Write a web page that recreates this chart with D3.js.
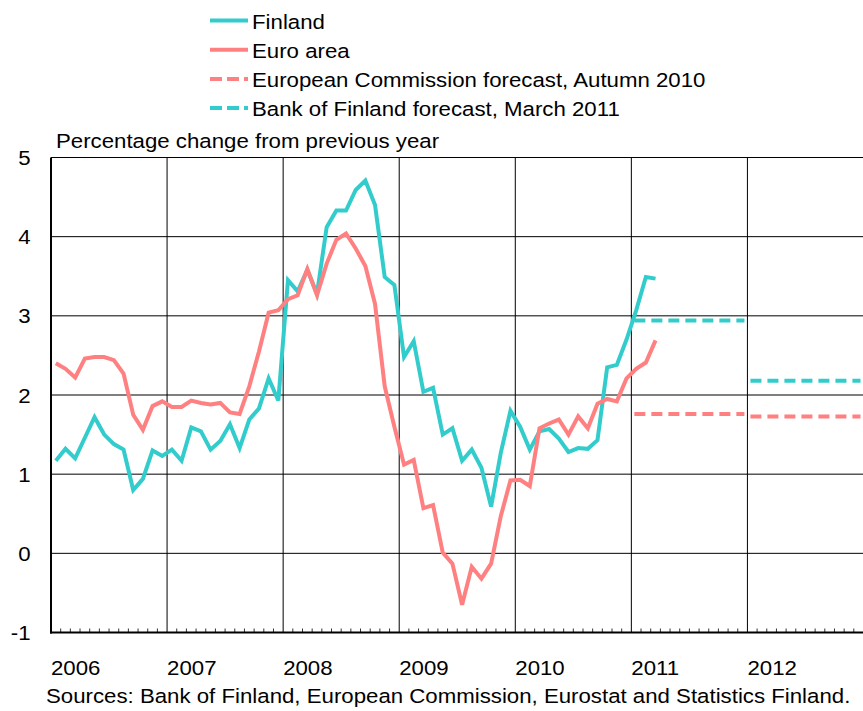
<!DOCTYPE html>
<html>
<head>
<meta charset="utf-8">
<script src="https://cdn.jsdelivr.net/npm/d3@7"></script>
<style>
  html, body { margin: 0; padding: 0; background: #fff; }
  svg { display: block; font-family: "Liberation Sans", Arial, sans-serif; }
</style>
</head>
<body>
<svg id="chart" width="863" height="711"></svg>
<script>
// Monthly HICP inflation, Jan 2006 – Mar 2011 (percentage change from previous year)
const startYear = 2006;
const finland = [
  1.17, 1.32, 1.20, 1.46, 1.72, 1.50, 1.38, 1.31, 0.80, 0.94, 1.30, 1.23,
  1.31, 1.17, 1.59, 1.54, 1.31, 1.42, 1.63, 1.33, 1.69, 1.83, 2.21, 1.93,
  3.45, 3.31, 3.58, 3.28, 4.12, 4.33, 4.33, 4.59, 4.71, 4.40, 3.49, 3.39,
  2.48, 2.68, 2.04, 2.09, 1.50, 1.58, 1.17, 1.31, 1.08, 0.59, 1.27, 1.80,
  1.60, 1.31, 1.54, 1.57, 1.45, 1.28, 1.33, 1.32, 1.43, 2.35, 2.38, 2.70,
  3.07, 3.49, 3.47
];
const euroArea = [
  2.40, 2.33, 2.22, 2.46, 2.48, 2.48, 2.44, 2.27, 1.75, 1.56, 1.86, 1.92,
  1.85, 1.85, 1.93, 1.90, 1.88, 1.90, 1.78, 1.76, 2.11, 2.55, 3.04, 3.07,
  3.21, 3.26, 3.59, 3.26, 3.66, 3.96, 4.04, 3.85, 3.63, 3.15, 2.11, 1.60,
  1.12, 1.18, 0.57, 0.61, 0.01, -0.13, -0.65, -0.17, -0.32, -0.13, 0.47, 0.92,
  0.93, 0.85, 1.58, 1.64, 1.69, 1.50, 1.73, 1.58, 1.89, 1.95, 1.92, 2.21,
  2.33, 2.41, 2.69
];
// Annual forecasts
const forecastYears = [2011, 2012];
const ecForecast = [1.76, 1.73];
const bofForecast = [2.94, 2.18];

const yearLabels = ["2006", "2007", "2008", "2009", "2010", "2011", "2012"];
const yTicks = [-1, 0, 1, 2, 3, 4, 5];

const seriesNames = [
  "Finland",
  "Euro area",
  "European Commission forecast, Autumn 2010",
  "Bank of Finland forecast, March 2011"
];

const CYAN = "#33cccc";
const RED = "#ff8080";
const FONT_SIZE = 20.5;
const STRETCH = 1.085;   // slightly wide lettering

const svg = d3.select("#chart");

const x = d3.scaleLinear().domain([0, 84]).range([51, 863.5]);   // months since Jan 2006
const y = d3.scaleLinear().domain([-1, 5]).range([632.5, 157.5]);

const left = x(0), right = 863;

// text helper: places a horizontally stretched label at (px, py)
function label(sel, px, py) {
  return sel.attr("transform", (d, i) => {
    const tx = typeof px === "function" ? px(d, i) : px;
    const ty = typeof py === "function" ? py(d, i) : py;
    return `translate(${tx},${ty}) scale(${STRETCH},1)`;
  }).attr("font-size", FONT_SIZE).attr("fill", "#000");
}

// horizontal gridlines
svg.append("g").selectAll("line").data(yTicks).join("line")
  .attr("x1", left).attr("x2", right)
  .attr("y1", d => y(d)).attr("y2", d => y(d))
  .attr("stroke", "#000").attr("stroke-width", 1);

// vertical year gridlines
svg.append("g").selectAll("line").data(d3.range(1, 7)).join("line")
  .attr("x1", d => x(d * 12)).attr("x2", d => x(d * 12))
  .attr("y1", y(5)).attr("y2", y(-1))
  .attr("stroke", "#000").attr("stroke-width", 1);

// monthly ticks on the bottom axis
svg.append("g").selectAll("line").data(d3.range(1, 84).filter(m => m % 12 !== 0)).join("line")
  .attr("x1", d => x(d)).attr("x2", d => x(d))
  .attr("y1", y(-1)).attr("y2", y(-1) - 4)
  .attr("stroke", "#333").attr("stroke-width", 1);

// axes
svg.append("line").attr("x1", left).attr("x2", left).attr("y1", y(5)).attr("y2", y(-1) + 1)
  .attr("stroke", "#000").attr("stroke-width", 2);
svg.append("line").attr("x1", left - 1).attr("x2", right).attr("y1", y(-1)).attr("y2", y(-1))
  .attr("stroke", "#000").attr("stroke-width", 2);

// y tick labels
label(svg.append("g").selectAll("text").data(yTicks).join("text"), 30.5, d => y(d) + 7.5)
  .attr("text-anchor", "end")
  .text(d => d);

// year labels
label(svg.append("g").selectAll("text").data(yearLabels).join("text"), (d, i) => x(i * 12), 675)
  .text(d => d);

// series lines
const line = d3.line().x((d, i) => x(i + 0.5)).y(d => y(d));
svg.append("path").datum(finland).attr("d", line)
  .attr("fill", "none").attr("stroke", CYAN).attr("stroke-width", 4);
svg.append("path").datum(euroArea).attr("d", line)
  .attr("fill", "none").attr("stroke", RED).attr("stroke-width", 4);

// forecast levels (one dashed segment per year)
function forecast(values, color) {
  svg.append("g").selectAll("line").data(values).join("line")
    .attr("x1", (d, i) => x((forecastYears[i] - startYear) * 12) + 3)
    .attr("x2", (d, i) => x((forecastYears[i] - startYear + 1) * 12) - 3)
    .attr("y1", d => y(d)).attr("y2", d => y(d))
    .attr("stroke", color).attr("stroke-width", 4)
    .attr("stroke-dasharray", "11,6");
}
forecast(ecForecast, RED);
forecast(bofForecast, CYAN);

// legend
const legendStyles = [
  { color: CYAN, dash: null },
  { color: RED, dash: null },
  { color: RED, dash: "12,5" },
  { color: CYAN, dash: "12,5" }
];
const lg = svg.append("g").selectAll("g").data(seriesNames).join("g")
  .attr("transform", (d, i) => `translate(210, ${20.5 + i * 29.2})`);
lg.append("line").attr("x1", 0).attr("x2", 38).attr("y1", 0).attr("y2", 0)
  .attr("stroke", (d, i) => legendStyles[i].color).attr("stroke-width", 4)
  .attr("stroke-dasharray", (d, i) => legendStyles[i].dash);
label(lg.append("text"), 42, 8).text(d => d);

// unit title and source
label(svg.append("text"), 56, 148).text("Percentage change from previous year");
label(svg.append("text"), 46, 703)
  .text("Sources: Bank of Finland, European Commission, Eurostat and Statistics Finland.");
</script>
</body>
</html>
